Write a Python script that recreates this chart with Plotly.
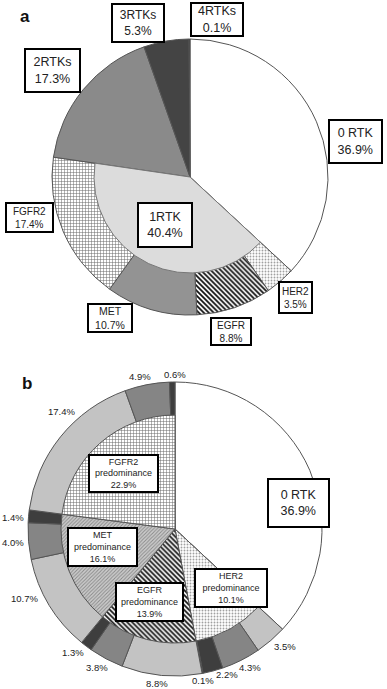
import plotly.graph_objects as go

W, H = 387, 689

# ---------------- data: panel a ----------------
a_labels = ["0 RTK", "HER2", "EGFR", "MET", "FGFR2", "2RTKs", "3RTKs", "4RTKs"]
a_values = [36.9, 3.5, 8.8, 10.7, 17.4, 17.3, 5.3, 0.1]
a_inner_labels = ["0 RTK", "1RTK", "2+ RTKs"]
a_inner_values = [36.9, 40.4, 22.7]

# ---------------- data: panel b ----------------
b_outer_values = [36.9, 3.5, 4.3, 2.2, 0.1, 8.8, 3.8, 1.3, 10.7, 4.0, 1.4, 17.4, 4.9, 0.6]
b_inner_labels = ["0 RTK", "HER2 predominance", "EGFR predominance",
                  "MET predominance", "FGFR2 predominance"]
b_inner_values = [36.9, 10.1, 13.9, 16.1, 22.9]

FONT = "Liberation Sans, Arial, sans-serif"
LINE = "#555555"


def dom(cx, cy, r):
    return dict(x=[(cx - r) / W, (cx + r) / W], y=[1 - (cy + r) / H, 1 - (cy - r) / H])


fig = go.Figure()

# ---- panel a outer pie ----
a_colors = ["#ffffff", "#ffffff", "#ffffff", "#939393", "#ffffff", "#8a8a8a", "#444444", "#1a1a1a"]
a_shapes = ["", ".", "\\", "", "+", "", "", ""]
a_fg = ["#000", "#a0a0a0", "#111111", "#000", "#666666", "#000", "#000", "#000"]
a_size = [6, 3, 3.5, 6, 3, 6, 6, 6]
a_sol = [0.3, 0.3, 0.5, 0.3, 0.3, 0.3, 0.3, 0.3]
fig.add_trace(go.Pie(
    labels=a_labels, values=a_values, sort=False, direction="clockwise", rotation=0,
    textinfo="none", hoverinfo="label+value",
    marker=dict(colors=a_colors, line=dict(color=LINE, width=1),
                pattern=dict(shape=a_shapes, fgcolor=a_fg, bgcolor=a_colors,
                             size=a_size, solidity=a_sol, fillmode="replace")),
    domain=dom(190, 177, 138), showlegend=False))

# ---- panel a inner disc (1RTK) ----
fig.add_trace(go.Pie(
    labels=a_inner_labels, values=a_inner_values, sort=False, direction="clockwise", rotation=0,
    textinfo="none", hoverinfo="label+value",
    marker=dict(colors=["rgba(0,0,0,0)", "#dcdcdc", "rgba(0,0,0,0)"],
                line=dict(color=["rgba(0,0,0,0)", "#777777", "rgba(0,0,0,0)"], width=1)),
    domain=dom(190, 177, 96), showlegend=False))

# ---- panel b outer ring ----
LIGHT, MID, DARK = "#c3c3c3", "#858585", "#3e3e3e"
b_outer_colors = ["#ffffff", LIGHT, MID, DARK, "#111111", LIGHT, MID, DARK,
                  LIGHT, MID, DARK, LIGHT, MID, DARK]
fig.add_trace(go.Pie(
    values=b_outer_values, labels=[f"s{i}" for i in range(len(b_outer_values))],
    sort=False, direction="clockwise", rotation=0, textinfo="none", hoverinfo="value",
    marker=dict(colors=b_outer_colors, line=dict(color=LINE, width=1)),
    domain=dom(175, 529, 147), showlegend=False))

# ---- panel b inner pie ----
b_in_colors = ["rgba(0,0,0,0)", "#ffffff", "#ffffff", "#cdcdcd", "#ffffff"]
b_in_shapes = ["", ".", "\\", "/", "+"]
b_in_fg = ["#000", "#a0a0a0", "#111111", "#8a8a8a", "#666666"]
b_in_size = [6, 3, 3.5, 2.5, 3]
b_in_sol = [0.3, 0.3, 0.5, 0.4, 0.3]
fig.add_trace(go.Pie(
    labels=b_inner_labels, values=b_inner_values, sort=False, direction="clockwise", rotation=0,
    textinfo="none", hoverinfo="label+value",
    marker=dict(colors=b_in_colors,
                line=dict(color=["rgba(0,0,0,0)", LINE, LINE, LINE, LINE], width=1),
                pattern=dict(shape=b_in_shapes, fgcolor=b_in_fg, bgcolor=b_in_colors,
                             size=b_in_size, solidity=b_in_sol, fillmode="replace")),
    domain=dom(175, 529, 114), showlegend=False))

# ---------------- labels ----------------
annos = []


def box(text, cx, cy, w, h, fs):
    annos.append(dict(text=text, x=cx / W, y=1 - cy / H, xref="paper", yref="paper",
                      xanchor="center", yanchor="middle", showarrow=False,
                      width=w - 4, height=h - 4, borderpad=0,
                      bordercolor="#000000", borderwidth=2, bgcolor="#ffffff",
                      font=dict(family=FONT, size=fs, color="#222222")))


def plain(text, cx, cy, fs):
    annos.append(dict(text=text, x=cx / W, y=1 - cy / H, xref="paper", yref="paper",
                      xanchor="center", yanchor="middle", showarrow=False,
                      font=dict(family=FONT, size=fs, color="#222222")))


# panel a label boxes: (cx, cy, w, h, fontsize)
a_box_pos = {
    "0 RTK": (355, 141, 55, 45, 12.5),
    "HER2": (295, 298, 35, 33, 10),
    "EGFR": (231, 331, 42, 29, 10),
    "MET": (110, 318, 46, 30, 10.5),
    "FGFR2": (29, 217, 49, 31, 10),
    "2RTKs": (52, 70, 57, 45, 12.5),
    "3RTKs": (138, 23, 54, 40, 12),
    "4RTKs": (217, 20, 54, 35, 12.5),
}
for lab, val in zip(a_labels, a_values):
    cx, cy, w, h, fs = a_box_pos[lab]
    box(f"{lab}<br>{val}%", cx, cy, w, h, fs)
box(f"{a_inner_labels[1]}<br>{a_inner_values[1]}%", 165, 225, 56, 46, 12.5)

# panel b inner boxes
b_box_pos = [(298, 503, 63, 50, 12.5), (231, 588, 74, 40, 9), (149, 602, 69, 40, 9),
             (102, 547, 71, 40, 9), (124, 473, 71, 39, 9)]
for lab, val, (cx, cy, w, h, fs) in zip(b_inner_labels, b_inner_values, b_box_pos):
    if lab == "0 RTK":
        box(f"{lab}<br>{val}%", cx, cy, w, h, fs)
    else:
        name, rest = lab.split(" ")
        box(f"{name}<br>{rest}<br>{val}%", cx, cy, w, h, fs)

# panel b outer ring value labels (skip the 0 RTK slice)
b_lab_pos = [(285, 646), (250, 667), (227, 674), (203, 680), (157, 683), (97, 667),
             (73, 652), (25, 598), (13, 542), (13, 517), (62, 411), (140, 376), (175, 374)]
for val, (cx, cy) in zip(b_outer_values[1:], b_lab_pos):
    plain(f"{val}%", cx, cy, 9.5)

# panel letters
annos.append(dict(text="<b>a</b>", x=25 / W, y=1 - 17 / H, xref="paper", yref="paper",
                  showarrow=False, xanchor="center", yanchor="middle",
                  font=dict(family=FONT, size=17, color="#111")))
annos.append(dict(text="<b>b</b>", x=27 / W, y=1 - 383 / H, xref="paper", yref="paper",
                  showarrow=False, xanchor="center", yanchor="middle",
                  font=dict(family=FONT, size=17, color="#111")))

fig.update_layout(width=W, height=H, margin=dict(l=0, r=0, t=0, b=0),
                  paper_bgcolor="#ffffff", plot_bgcolor="#ffffff",
                  annotations=annos, showlegend=False)

fig.write_html("out.html", config={"displayModeBar": False},
               post_script="document.body.style.margin='0';document.body.style.overflow='hidden';")
